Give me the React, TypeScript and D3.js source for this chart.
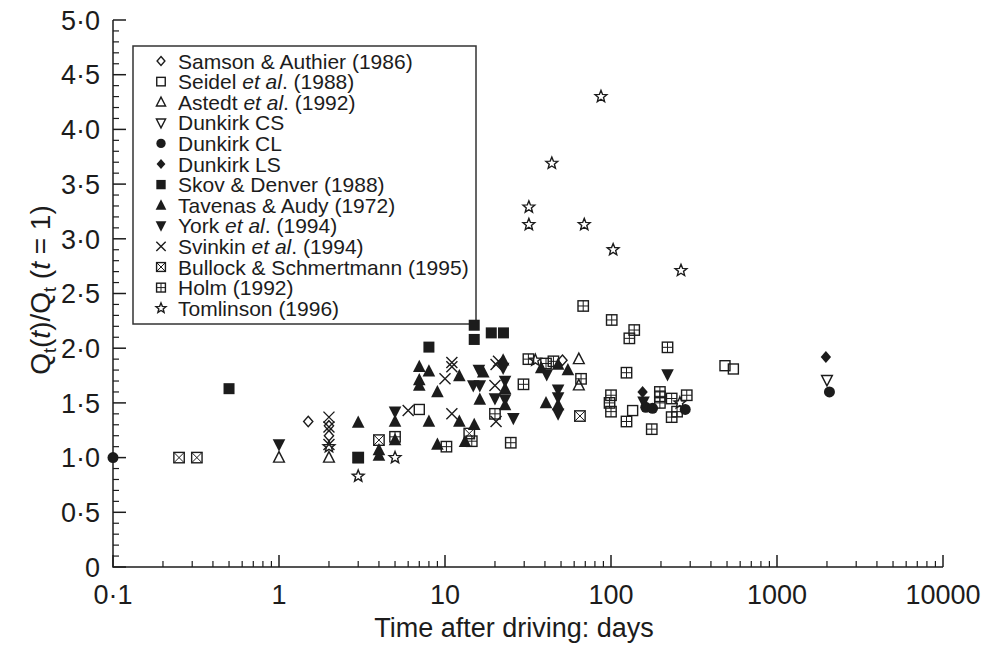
import React from 'react';
import * as d3 from 'd3';

type Pt = [number, number];

// ---- data (time in days, Qt(t)/Qt(t=1)) ----
const samsonAuthier: Pt[] = [[1.5, 1.33], [2, 1.29], [2, 1.2], [51, 1.89]];
const seidel: Pt[] = [[7, 1.44], [135, 1.43], [486, 1.84], [546, 1.81]];
const astedt: Pt[] = [[1, 1.0], [2, 1.0], [64, 1.9], [64, 1.66]];
const dunkirkCS: Pt[] = [[2000, 1.71]];
const dunkirkCL: Pt[] = [[0.1, 1.0], [162, 1.46], [178, 1.45], [280, 1.44], [2070, 1.6]];
const dunkirkLS: Pt[] = [[155, 1.6], [1970, 1.92]];
const skovDenver: Pt[] = [[0.5, 1.63], [3, 1.0], [8, 2.01], [15, 2.21], [15, 2.08], [19, 2.14], [22.5, 2.14]];
const tavenasAudy: Pt[] = [
  [3, 1.32], [4, 1.07], [4, 1.02], [5, 1.33], [5, 1.16], [7, 1.83], [8, 1.79], [7, 1.71], [7, 1.66],
  [9, 1.6], [8, 1.33], [9, 1.12], [12.2, 1.745], [12.2, 1.33], [13.2, 1.145], [15, 1.3], [16.2, 1.53],
  [17, 1.78], [23, 1.63], [23, 1.48], [22.4, 1.89], [38, 1.82], [40.6, 1.5], [48, 1.85], [55, 1.8], [48, 1.48],
];
const york: Pt[] = [
  [1, 1.12], [5, 1.42], [14.8, 1.66], [16.2, 1.66], [16, 1.8], [22.4, 1.82], [23, 1.7], [20, 1.54],
  [23, 1.53], [25.8, 1.36], [41, 1.76], [48, 1.62], [48, 1.55], [48, 1.4], [157, 1.51], [219, 1.76],
];
const svinkin: Pt[] = [
  [2, 1.37], [2, 1.28], [2, 1.12], [6, 1.43], [11, 1.87], [11, 1.83], [10, 1.72], [11, 1.4],
  [20, 1.66], [20.3, 1.85], [20.3, 1.33], [21, 1.88],
];
const bullock: Pt[] = [[0.25, 1.0], [0.32, 1.0], [3, 1.0], [4, 1.16], [14, 1.22], [65, 1.38]];
const holm: Pt[] = [
  [5, 1.19], [10.2, 1.1], [14.5, 1.15], [20, 1.4], [24.9, 1.136], [29.7, 1.67], [31.8, 1.9], [40.6, 1.86],
  [45, 1.88], [66, 1.72], [68, 2.386], [101, 2.258], [138, 2.166], [129, 2.09], [219, 2.008], [124, 1.776],
  [100, 1.57], [98, 1.5], [100, 1.42], [124, 1.33], [197, 1.6], [197, 1.56], [197, 1.5], [232, 1.54],
  [286, 1.57], [232, 1.37], [176, 1.26], [250, 1.42],
];
const tomlinson: Pt[] = [
  [87, 4.3], [44, 3.69], [32, 3.29], [32, 3.13], [69, 3.13], [103, 2.9], [264, 2.71], [3, 0.83],
  [5, 1.0], [2, 1.1], [35, 1.89], [260, 1.5],
];

const xTickValues = [0.1, 1, 10, 100, 1000, 10000];
const xTickLabels = ['0·1', '1', '10', '100', '1000', '10000'];
const yTickValues = [0, 0.5, 1, 1.5, 2, 2.5, 3, 3.5, 4, 4.5, 5];
const yTickLabels = ['0', '0·5', '1·0', '1·5', '2·0', '2·5', '3·0', '3·5', '4·0', '4·5', '5·0'];

type Kind =
  | 'diamondOpen' | 'squareOpen' | 'triUpOpen' | 'triDownOpen' | 'circle' | 'diamond' | 'square'
  | 'triUp' | 'triDown' | 'times' | 'squareX' | 'squarePlus' | 'star';

type Seg = { t: string; i?: boolean };
const series: { kind: Kind; data: Pt[]; label: Seg[] }[] = [
  { kind: 'diamondOpen', data: samsonAuthier, label: [{ t: 'Samson & Authier (1986)' }] },
  { kind: 'squareOpen', data: seidel, label: [{ t: 'Seidel ' }, { t: 'et al', i: true }, { t: '. (1988)' }] },
  { kind: 'triUpOpen', data: astedt, label: [{ t: 'Astedt ' }, { t: 'et al', i: true }, { t: '. (1992)' }] },
  { kind: 'triDownOpen', data: dunkirkCS, label: [{ t: 'Dunkirk CS' }] },
  { kind: 'circle', data: dunkirkCL, label: [{ t: 'Dunkirk CL' }] },
  { kind: 'diamond', data: dunkirkLS, label: [{ t: 'Dunkirk LS' }] },
  { kind: 'square', data: skovDenver, label: [{ t: 'Skov & Denver (1988)' }] },
  { kind: 'triUp', data: tavenasAudy, label: [{ t: 'Tavenas & Audy (1972)' }] },
  { kind: 'triDown', data: york, label: [{ t: 'York ' }, { t: 'et al', i: true }, { t: '. (1994)' }] },
  { kind: 'times', data: svinkin, label: [{ t: 'Svinkin ' }, { t: 'et al', i: true }, { t: '. (1994)' }] },
  { kind: 'squareX', data: bullock, label: [{ t: 'Bullock & Schmertmann (1995)' }] },
  { kind: 'squarePlus', data: holm, label: [{ t: 'Holm (1992)' }] },
  { kind: 'star', data: tomlinson, label: [{ t: 'Tomlinson (1996)' }] },
];

const INK = '#1c1c1c';
const FONT = '"Liberation Sans", Arial, sans-serif';

function starPath(cx: number, cy: number, ro: number, ri: number) {
  const pts: [number, number][] = [];
  for (let k = 0; k < 10; k++) {
    const a = -Math.PI / 2 + (k * Math.PI) / 5;
    const r = k % 2 === 0 ? ro : ri;
    pts.push([cx + r * Math.cos(a), cy + r * Math.sin(a)]);
  }
  return d3.line()(pts) + 'Z';
}

function Marker({ kind, x, y, s = 1 }: { kind: Kind; x: number; y: number; s?: number }) {
  const sw = 1.4;
  const open = { fill: 'none', stroke: INK, strokeWidth: sw };
  const filled = { fill: INK, stroke: 'none' };
  switch (kind) {
    case 'diamondOpen': {
      const h = 5.2 * s, w = 4.6 * s;
      return <path d={`M${x},${y - h}L${x + w},${y}L${x},${y + h}L${x - w},${y}Z`} {...open} />;
    }
    case 'squareOpen': {
      const h = 5 * s;
      return <rect x={x - h} y={y - h} width={2 * h} height={2 * h} {...open} />;
    }
    case 'triUpOpen': {
      const h = 6 * s;
      return <path d={`M${x},${y - h}L${x + h * 0.9},${y + h * 0.75}L${x - h * 0.9},${y + h * 0.75}Z`} {...open} />;
    }
    case 'triDownOpen': {
      const h = 6 * s;
      return <path d={`M${x},${y + h}L${x + h * 0.9},${y - h * 0.75}L${x - h * 0.9},${y - h * 0.75}Z`} {...open} />;
    }
    case 'circle':
      return <circle cx={x} cy={y} r={5.5 * s} {...filled} />;
    case 'diamond': {
      const h = 6 * s, w = 5.2 * s;
      return <path d={`M${x},${y - h}L${x + w},${y}L${x},${y + h}L${x - w},${y}Z`} {...filled} />;
    }
    case 'square': {
      const h = 5.5 * s;
      return <rect x={x - h} y={y - h} width={2 * h} height={2 * h} {...filled} />;
    }
    case 'triUp': {
      const h = 7 * s;
      return <path d={`M${x},${y - h}L${x + h * 0.9},${y + h * 0.75}L${x - h * 0.9},${y + h * 0.75}Z`} {...filled} />;
    }
    case 'triDown': {
      const h = 7 * s;
      return <path d={`M${x},${y + h}L${x + h * 0.9},${y - h * 0.75}L${x - h * 0.9},${y - h * 0.75}Z`} {...filled} />;
    }
    case 'times': {
      const h = 5.5 * s;
      return <path d={`M${x - h},${y - h}L${x + h},${y + h}M${x - h},${y + h}L${x + h},${y - h}`} {...open} />;
    }
    case 'squareX': {
      const h = 5.2 * s;
      return (
        <g {...open}>
          <rect x={x - h} y={y - h} width={2 * h} height={2 * h} />
          <path d={`M${x - h},${y - h}L${x + h},${y + h}M${x - h},${y + h}L${x + h},${y - h}`} strokeWidth={1} />
        </g>
      );
    }
    case 'squarePlus': {
      const h = 5.2 * s;
      return (
        <g {...open}>
          <rect x={x - h} y={y - h} width={2 * h} height={2 * h} />
          <path d={`M${x - h},${y}L${x + h},${y}M${x},${y - h}L${x},${y + h}`} strokeWidth={1} />
        </g>
      );
    }
    case 'star':
      return <path d={starPath(x, y, 6.2 * s, 2.7 * s)} {...open} />;
  }
  return null;
}

export default function App() {
  const W = 992, H = 646;
  const x = d3.scaleLog().domain([0.1, 10000]).range([113, 943]);
  const y = d3.scaleLinear().domain([0, 5]).range([567, 20]);

  const xMinor: number[] = [];
  for (let e = -1; e < 4; e++) {
    for (let m = 2; m <= 9; m++) xMinor.push(m * Math.pow(10, e));
  }
  const yMinor = d3.range(0, 5.0001, 0.1).map((v) => +v.toFixed(2));

  const legendX = 133, legendY = 46, legendW = 343, legendH = 278;
  const rowY0 = 61, rowStep = 20.6;

  return (
    <svg width={W} height={H} style={{ position: 'absolute', left: 0, top: 0, background: '#fff' }} fontFamily={FONT}>
      <rect x={0} y={0} width={W} height={H} fill="#fff" />
      {/* legend */}
      <rect x={legendX} y={legendY} width={legendW} height={legendH} fill="#fff" stroke="#333" strokeWidth={1.5} />
      {series.map((s, i) => (
        <g key={'lg' + i}>
          <Marker kind={s.kind} x={161} y={rowY0 + i * rowStep} s={0.85} />
          <text x={178} y={rowY0 + i * rowStep} dy="0.36em" fontSize={21} fill={INK}>
            {s.label.map((seg, j) => (
              <tspan key={j} fontStyle={seg.i ? 'italic' : 'normal'}>{seg.t}</tspan>
            ))}
          </text>
        </g>
      ))}

      {/* axes */}
      <g stroke={INK} strokeWidth={1.5} fill="none">
        <path d={`M${x(0.1)},${y(5)}L${x(0.1)},${y(0)}L${x(10000)},${y(0)}`} />
        {xTickValues.map((v) => (
          <line key={'xM' + v} x1={x(v)} x2={x(v)} y1={y(0)} y2={y(0) - 12} />
        ))}
        {xMinor.map((v) => (
          <line key={'xm' + v} x1={x(v)} x2={x(v)} y1={y(0)} y2={y(0) - 6} strokeWidth={1.2} />
        ))}
        {yMinor.map((v) => {
          const major = Math.abs(v * 2 - Math.round(v * 2)) < 1e-6;
          return (
            <line key={'ym' + v} x1={x(0.1)} x2={x(0.1) + (major ? 13 : 6)} y1={y(v)} y2={y(v)} strokeWidth={major ? 1.5 : 1.2} />
          );
        })}
      </g>
      {xTickValues.map((v, i) => (
        <text key={'xl' + v} x={x(v)} y={604} textAnchor="middle" fontSize={27} fill={INK}>
          {xTickLabels[i]}
        </text>
      ))}
      {yTickValues.map((v, i) => (
        <text key={'yl' + v} x={100} y={y(v)} dy="0.36em" textAnchor="end" fontSize={27} fill={INK}>
          {yTickLabels[i]}
        </text>
      ))}
      <text x={514} y={637} textAnchor="middle" fontSize={27} fill={INK}>
        Time after driving: days
      </text>
      <text transform="translate(50,290) rotate(-90)" textAnchor="middle" fontSize={28} fill={INK}>
        <tspan>Q</tspan>
        <tspan dy={6} fontSize={18}>t</tspan>
        <tspan dy={-6}>(</tspan>
        <tspan fontStyle="italic">t</tspan>
        <tspan>)/Q</tspan>
        <tspan dy={6} fontSize={18}>t</tspan>
        <tspan dy={-6}> (</tspan>
        <tspan fontStyle="italic">t</tspan>
        <tspan> = 1)</tspan>
      </text>

      {/* data */}
      {series.map((s, i) => (
        <g key={'sr' + i}>
          {s.data.map((d, j) => (
            <Marker key={j} kind={s.kind} x={x(d[0])} y={y(d[1])} />
          ))}
        </g>
      ))}
    </svg>
  );
}
